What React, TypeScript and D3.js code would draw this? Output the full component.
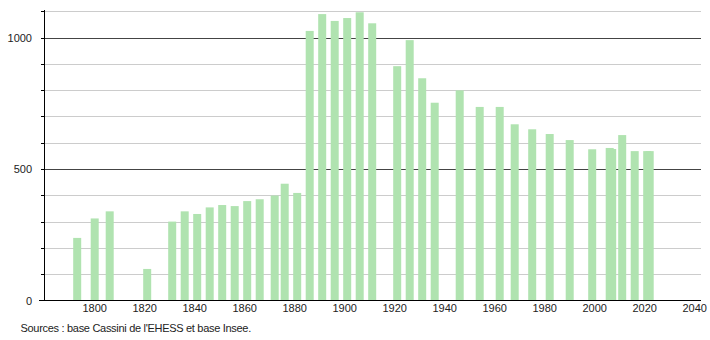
import React from "react";
import * as d3 from "d3";

const years = [1793, 1800, 1806, 1821, 1831, 1836, 1841, 1846, 1851, 1856, 1861, 1866, 1872, 1876, 1881, 1886, 1891, 1896, 1901, 1906, 1911, 1921, 1926, 1931, 1936, 1946, 1954, 1962, 1968, 1975, 1982, 1990, 1999, 2006, 2007, 2011, 2016, 2021, 2022];
const population = [238, 312, 339, 120, 300, 339, 329, 354, 363, 359, 378, 385, 399, 444, 409, 1025, 1089, 1063, 1074, 1096, 1054, 891, 990, 845, 752, 799, 736, 736, 670, 651, 633, 610, 575, 580, 576, 629, 568, 568, 568];
const xTicks = [1800, 1820, 1840, 1860, 1880, 1900, 1920, 1940, 1960, 1980, 2000, 2020, 2040];
const yLabels = [0, 500, 1000];
const yGrid = [100, 200, 300, 400, 500, 600, 700, 800, 900, 1000, 1100];
const source = "Sources : base Cassini de l'EHESS et base Insee.";

const W = 710, H = 340;
const axisX = 44, right = 701, bottom = 300.5, top = 10;

export default function App() {
  const x = d3.scaleLinear().domain([1800, 2040]).range([94.7, 694.7]);
  const y = d3.scaleLinear().domain([0, 1000]).range([bottom, bottom - 263]);
  const bw = 8;
  const font = "'Liberation Sans', Arial, sans-serif";
  return (
    <div style={{ position: "absolute", left: 0, top: 0 }}>
      <svg width={W} height={H} style={{ display: "block", background: "#fff" }}>
        {yGrid.map((v) => (
          <line key={"g" + v} x1={axisX} x2={right} y1={Math.round(y(v)) + 0.5} y2={Math.round(y(v)) + 0.5}
            stroke={v % 500 === 0 ? "#444" : "#ccc"} strokeWidth={1} />
        ))}
        {population.map((v, i) => (
          <rect key={"b" + i} x={x(years[i]) - bw / 2} y={y(v)} width={bw} height={bottom - y(v)} fill="#b0e3b0" />
        ))}
        {yGrid.map((v) => (
          <line key={"t" + v} x1={axisX - 3} x2={axisX} y1={Math.round(y(v)) + 0.5} y2={Math.round(y(v)) + 0.5} stroke="#000" />
        ))}
        <line x1={axisX + 0.5} x2={axisX + 0.5} y1={top} y2={bottom} stroke="#000" />
        <line x1={39} x2={right} y1={bottom} y2={bottom} stroke="#000" />
        {yLabels.map((v) => (
          <text key={"yl" + v} x={32} y={y(v) + 4} textAnchor="end" fontFamily={font} fontSize={11} fill="#222">{v}</text>
        ))}
        {xTicks.map((t) => (
          <text key={"xl" + t} x={x(t)} y={312} textAnchor="middle" fontFamily={font} fontSize={11} fill="#222">{t}</text>
        ))}
        <text x={20.5} y={332} fontFamily={font} fontSize={11} fill="#222" letterSpacing={-0.3}>{source}</text>
      </svg>
    </div>
  );
}
